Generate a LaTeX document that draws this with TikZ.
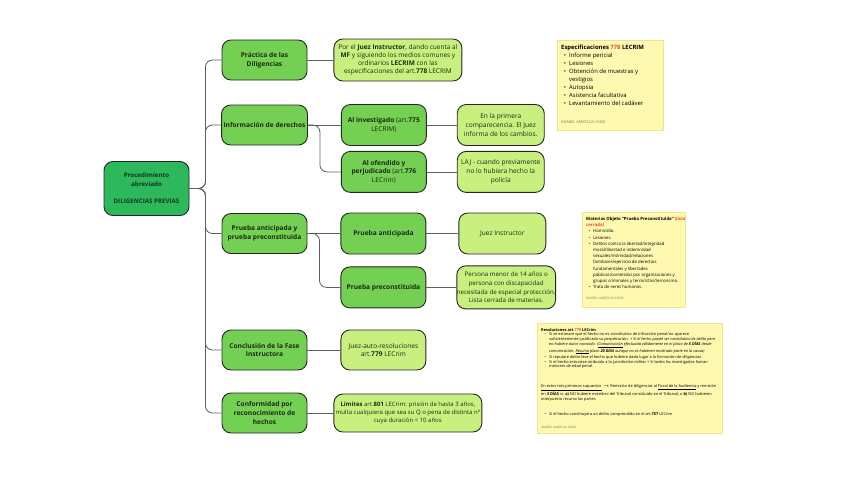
\documentclass[tikz,border=0pt]{standalone}
\usepackage{fontspec}
\setmainfont{Open Sans}
\usepackage{xcolor}
\usepackage{enumitem}
\usetikzlibrary{positioning}

\definecolor{rootgreen}{HTML}{2EB85C}
\definecolor{midgreen}{HTML}{74D052}
\definecolor{limegreen}{HTML}{C9F07F}
\definecolor{rootink}{HTML}{0F3A1C}
\definecolor{textdark}{HTML}{1B2A12}
\definecolor{linegray}{HTML}{5E5E5E}
\definecolor{noteyellow}{HTML}{FFF8B0}
\definecolor{noteedge}{HTML}{F0E48C}
\definecolor{notered}{HTML}{E8472B}
\definecolor{notegray}{HTML}{7A7A6A}

\setlist[itemize]{leftmargin=8pt, labelsep=3pt, itemsep=0pt, topsep=0pt, parsep=0pt, partopsep=0pt, label=\textbullet}

\tikzset{
  mapbox/.style={draw=black!85, line width=0.9pt, rounded corners=9pt, align=center, inner sep=2pt, text=textdark},
  rootbox/.style={mapbox, fill=rootgreen, minimum width=85pt, minimum height=54pt, font=\fontsize{6.2}{8.6}\selectfont\bfseries, text=rootink},
  mainbox/.style={mapbox, fill=midgreen, minimum width=85pt, minimum height=40pt, font=\fontsize{6.6}{8.7}\selectfont\bfseries},
  subbox/.style={mapbox, fill=midgreen, minimum width=85pt, minimum height=41pt, font=\fontsize{6.6}{8.8}\selectfont},
  leafbox/.style={mapbox, fill=limegreen, minimum width=87pt, minimum height=41pt, font=\fontsize{6.6}{8.8}\selectfont},
  widebox/.style={mapbox, fill=limegreen, font=\fontsize{6.5}{7.9}\selectfont},
  note/.style={fill=noteyellow, draw=noteedge, line width=0.4pt, anchor=north west, inner xsep=4pt, inner ysep=5pt, align=left},
  conn/.style={draw=linegray, line width=0.8pt, rounded corners=7pt}
}

\begin{document}
\begin{tikzpicture}[x=1pt, y=-1pt]
  \useasboundingbox (0,0) rectangle (848,477);

  % root
  \node[rootbox] (proc) at (146.5,188.5) {Procedimiento\\abreviado\\[8.6pt]DILIGENCIAS PREVIAS};

  % first level
  \node[mainbox] (practica)   at (264.5,60)    {Práctica de las\\Diligencias};
  \node[mainbox] (info)       at (264.5,125)   {Información de derechos};
  \node[mainbox] (prueba)     at (264.5,233.5) {Prueba anticipada y\\prueba preconstituida};
  \node[mainbox] (conclusion) at (264.5,350)   {Conclusión de la Fase\\Instructora};
  \node[mainbox] (conformidad) at (264.5,413)  {Conformidad por\\reconocimiento de\\hechos};

  % second level
  \node[widebox, minimum width=128pt, minimum height=42pt, right=26pt of practica] (juezmf)
    {Por el \textbf{Juez Instructor}, dando cuenta al\\\textbf{MF} y siguiendo los medios comunes y\\ordinarios \textbf{LECRIM} con las\\especificaciones del art.\textbf{778} LECRIM};
  \node[subbox, right=33pt of info] (invest) {\textbf{Al investigado} (art.\textbf{775}\\LECRIM)};
  \node[subbox, below=5pt of invest] (ofendido) {\textbf{Al ofendido y}\\\textbf{perjudicado} (art.\textbf{776}\\LECrim)};
  \node[subbox, font=\fontsize{6.6}{8.7}\selectfont\bfseries, right=33pt of prueba] (anticipada) {Prueba anticipada};
  \node[subbox, font=\fontsize{6.6}{8.7}\selectfont\bfseries, below=12pt of anticipada] (precons) {Prueba preconstituida};
  \node[leafbox, minimum width=85pt, minimum height=40pt, right=33pt of conclusion] (juezauto) {Juez-auto-resoluciones\\art.\textbf{779} LECrim};
  \node[widebox, minimum width=134pt, minimum height=38pt, font=\fontsize{6}{8.4}\selectfont, right=26pt of conformidad] (limites)
    {\textbf{Límites} art.\textbf{801} LECrim: prisión de hasta 3 años,\\multa cualquiera que sea su Q o pena de distinta nª\\cuya duración \textless{} 10 años};

  % third level
  \node[leafbox, right=30pt of invest] (primera) {En la primera\\comparecencia. El Juez\\informa de los cambios.};
  \node[leafbox, right=30pt of ofendido] (laj) {LAJ - cuando previamente\\no lo hubiera hecho la\\policía};
  \node[leafbox, right=32pt of anticipada] (juezinst) {Juez Instructor};
  \node[leafbox, minimum height=43pt, inner xsep=0pt, font=\fontsize{6.2}{8.6}\selectfont, right=30pt of precons] (persona) {Persona menor de 14 años o\\persona con discapacidad\\necesitada de especial protección.\\Lista cerrada de materias.};

  % connectors
  \foreach \kid in {practica, info, prueba, conclusion, conformidad}
    \draw[conn] (proc.east) -- ++(16,0) |- (\kid.west);
  \draw[conn] (practica) -- (juezmf);
  \draw[conn] (info) -- (invest);
  \draw[conn] (info.east) -- ++(12,0) |- (ofendido.west);
  \draw[conn] (prueba) -- (anticipada);
  \draw[conn] (prueba.east) -- ++(12,0) |- (precons.west);
  \draw[conn] (conclusion) -- (juezauto);
  \draw[conn] (conformidad) -- (limites);
  \draw[conn] (invest) -- (primera);
  \draw[conn] (ofendido) -- (laj);
  \draw[conn] (anticipada) -- (juezinst);
  \draw[conn] (precons) -- (persona);

  % notes
  \node[note] (nota778) at (557,40) {\begin{minipage}[t][80pt][t]{98pt}\raggedright\fontsize{5.9}{8}\selectfont
    \textbf{Especificaciones \textcolor{notered}{778} LECRIM}
    \begin{itemize}
      \item Informe pericial
      \item Lesiones
      \item Obtención de muestras y\newline vestigios
      \item Autopsia
      \item Asistencia facultativa
      \item Levantamiento del cadáver
    \end{itemize}
    \vspace{10pt}
    {\fontsize{3.8}{4}\selectfont\color{notegray}ANABEL AMEZCUA CANO}
  \end{minipage}};

  \node[note] (notamaterias) at (582,212) {\begin{minipage}[t][85pt][t]{95pt}\raggedright\fontsize{4.3}{6.2}\selectfont
    \textbf{\makebox[95pt][l]{Materias Objeto “Prueba Preconstituida” \textcolor{notered}{(lista}}\newline\textcolor{notered}{cerrada)}}
    \begin{itemize}[leftmargin=7pt]
      \item Homicidio.
      \item Lesiones.
      \item Delitos contra la libertad/integridad\newline moral/libertad e indemnidad\newline sexuales/intimidad/relaciones\newline familiares/ejercicio de derechos\newline fundamentales y libertades\newline públicas/cometidos por organizaciones y\newline grupos criminales y terroristas/terrorismo.
      \item Trata de seres humanos.
    \end{itemize}
    \vspace{5pt}
    {\fontsize{3.2}{4}\selectfont\color{notegray}ANABEL AMEZCUA CANO}
  \end{minipage}};

  \node[note] (nota779) at (537,323) {\begin{minipage}[t][100pt][t]{177pt}\raggedright\fontsize{3.9}{4.8}\selectfont
    \textbf{Resoluciones art.\textcolor{notered}{779} LECrim}
    \begin{itemize}
      \item Si se estimare que el hecho no es constitutivo de infracción penal/no aparece suficientemente justificada su perpetración. + \textit{Si el hecho puede ser constitutivo de delito pero no hubiere autor conocido. (\underline{Comunicación} efectuada válidamente en el plazo de \textbf{5 DÍAS} desde comunicación. \underline{Recurso} plazo \textbf{20 DÍAS} aunque no se hubieren mostrado parte en la causa)}
      \item Si reputare delito leve el hecho que hubiere dado lugar a la formación de diligencias.
      \item Si el hecho estuviese atribuido a la jurisdicción militar + Si todos los investigados fueran menores de edad penal.
    \end{itemize}
    \vspace{15pt}
    \underline{En estos tres primeros supuestos} $\rightarrow$ Remisión de diligencias al \underline{Fiscal de la Audiencia} y remisión en \textbf{3 DÍAS} si: \textbf{a)} NO hubiere miembro del Tribunal constituido en el Tribunal, o \textbf{b)} NO hubieren interpuesto recurso las partes

    \vspace{11pt}
    \begin{itemize}
      \item Si el hecho constituyera un delito comprendido en el art.\textbf{757} LECrim
    \end{itemize}
    \vspace{8pt}
    {\fontsize{3}{4}\selectfont\color{notegray}ANABEL AMEZCUA CANO}
  \end{minipage}};
\end{tikzpicture}
\end{document}
